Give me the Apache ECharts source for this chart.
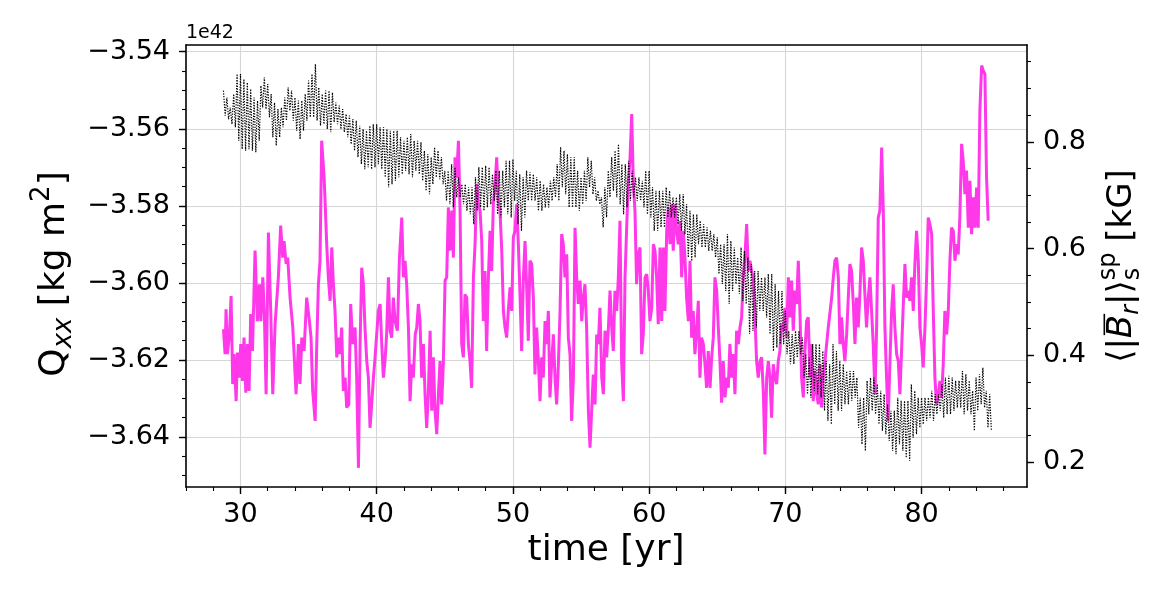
<!DOCTYPE html>
<html>
<head>
<meta charset="utf-8">
<script src="https://cdn.jsdelivr.net/npm/echarts@6/dist/echarts.min.js"></script>
<style>
html, body { margin: 0; padding: 0; background: #fff; }
#chart { width: 1173px; height: 597px; }
</style>
</head>
<body>
<div id="chart"></div>
<script>
// Q_xx (units of 1e42 kg m^2): upper and lower edge of the fast oscillation,
// read every 0.25 yr from 28.75 yr
var qxxStart = 28.75, qxxStep = 0.25;
var qxxUpper = [
  -3.5501,-3.5519,-3.5545,-3.5510,-3.5458,-3.5458,-3.5471,-3.5480,-3.5497,-3.5519,
  -3.5527,-3.5488,-3.5467,-3.5484,-3.5510,-3.5532,-3.5549,-3.5545,-3.5519,-3.5493,
  -3.5501,-3.5519,-3.5527,-3.5527,-3.5510,-3.5475,-3.5458,-3.5432,-3.5493,-3.5510,
  -3.5501,-3.5501,-3.5506,-3.5532,-3.5540,-3.5549,-3.5562,-3.5566,-3.5575,-3.5579,
  -3.5592,-3.5601,-3.5605,-3.5592,-3.5588,-3.5588,-3.5596,-3.5596,-3.5601,-3.5605,
  -3.5605,-3.5605,-3.5622,-3.5631,-3.5622,-3.5614,-3.5631,-3.5631,-3.5635,-3.5657,
  -3.5666,-3.5674,-3.5648,-3.5657,-3.5674,-3.5709,-3.5709,-3.5692,-3.5700,-3.5726,
  -3.5744,-3.5744,-3.5752,-3.5752,-3.5726,-3.5700,-3.5700,-3.5696,-3.5700,-3.5718,
  -3.5709,-3.5709,-3.5709,-3.5683,-3.5683,-3.5679,-3.5709,-3.5718,-3.5726,-3.5709,
  -3.5713,-3.5718,-3.5726,-3.5735,-3.5744,-3.5752,-3.5735,-3.5726,-3.5692,-3.5648,
  -3.5657,-3.5666,-3.5674,-3.5674,-3.5709,-3.5726,-3.5709,-3.5674,-3.5683,-3.5726,
  -3.5761,-3.5778,-3.5752,-3.5709,-3.5674,-3.5657,-3.5640,-3.5692,-3.5692,-3.5683,
  -3.5709,-3.5726,-3.5726,-3.5735,-3.5709,-3.5709,-3.5752,-3.5761,-3.5761,-3.5761,
  -3.5752,-3.5761,-3.5778,-3.5778,-3.5770,-3.5770,-3.5796,-3.5813,-3.5822,-3.5822,
  -3.5839,-3.5848,-3.5856,-3.5865,-3.5874,-3.5882,-3.5900,-3.5900,-3.5874,-3.5891,
  -3.5908,-3.5934,-3.5908,-3.5917,-3.5934,-3.5951,-3.5969,-3.5969,-3.5986,-3.5986,
  -3.5977,-3.5977,-3.6003,-3.6021,-3.6021,-3.6073,-3.6125,-3.6133,-3.6125,-3.6125,
  -3.6142,-3.6185,-3.6194,-3.6159,-3.6159,-3.6159,-3.6177,-3.6203,-3.6211,-3.6159,
  -3.6177,-3.6203,-3.6211,-3.6229,-3.6229,-3.6229,-3.6246,-3.6298,-3.6298,-3.6254,
  -3.6246,-3.6246,-3.6263,-3.6280,-3.6289,-3.6315,-3.6332,-3.6332,-3.6298,-3.6306,
  -3.6306,-3.6306,-3.6263,-3.6280,-3.6298,-3.6298,-3.6298,-3.6298,-3.6280,-3.6289,
  -3.6289,-3.6263,-3.6246,-3.6241,-3.6246,-3.6254,-3.6254,-3.6229,-3.6237,-3.6254,
  -3.6280,-3.6246,-3.6237,-3.6220,-3.6280,-3.6289
];
var qxxLower = [
  -3.5566,-3.5575,-3.5588,-3.5596,-3.5631,-3.5653,-3.5657,-3.5653,-3.5657,-3.5661,
  -3.5631,-3.5545,-3.5549,-3.5570,-3.5622,-3.5644,-3.5622,-3.5596,-3.5579,-3.5553,
  -3.5579,-3.5605,-3.5627,-3.5605,-3.5579,-3.5570,-3.5570,-3.5579,-3.5592,-3.5588,
  -3.5601,-3.5609,-3.5583,-3.5588,-3.5601,-3.5609,-3.5622,-3.5640,-3.5657,-3.5674,
  -3.5692,-3.5705,-3.5700,-3.5705,-3.5700,-3.5692,-3.5705,-3.5726,-3.5752,-3.5744,
  -3.5735,-3.5726,-3.5718,-3.5709,-3.5718,-3.5726,-3.5709,-3.5718,-3.5735,-3.5761,
  -3.5770,-3.5744,-3.5726,-3.5731,-3.5744,-3.5787,-3.5796,-3.5804,-3.5778,-3.5778,
  -3.5796,-3.5813,-3.5822,-3.5848,-3.5813,-3.5804,-3.5813,-3.5804,-3.5796,-3.5787,
  -3.5822,-3.5830,-3.5804,-3.5822,-3.5830,-3.5787,-3.5848,-3.5865,-3.5830,-3.5787,
  -3.5787,-3.5787,-3.5813,-3.5813,-3.5804,-3.5804,-3.5787,-3.5778,-3.5787,-3.5752,
  -3.5770,-3.5804,-3.5804,-3.5804,-3.5813,-3.5796,-3.5787,-3.5752,-3.5770,-3.5787,
  -3.5796,-3.5856,-3.5830,-3.5778,-3.5761,-3.5778,-3.5796,-3.5822,-3.5804,-3.5787,
  -3.5778,-3.5787,-3.5787,-3.5804,-3.5822,-3.5830,-3.5865,-3.5865,-3.5856,-3.5856,
  -3.5830,-3.5830,-3.5830,-3.5848,-3.5865,-3.5874,-3.5934,-3.5943,-3.5934,-3.5900,
  -3.5908,-3.5908,-3.5917,-3.5917,-3.5934,-3.5977,-3.6003,-3.6021,-3.6055,-3.6021,
  -3.6003,-3.6029,-3.6047,-3.6055,-3.6133,-3.6125,-3.6116,-3.6073,-3.6073,-3.6090,
  -3.6133,-3.6177,-3.6168,-3.6159,-3.6159,-3.6185,-3.6211,-3.6211,-3.6194,-3.6185,
  -3.6246,-3.6289,-3.6298,-3.6280,-3.6289,-3.6298,-3.6332,-3.6358,-3.6367,-3.6315,
  -3.6332,-3.6332,-3.6315,-3.6315,-3.6306,-3.6298,-3.6376,-3.6419,-3.6436,-3.6341,
  -3.6332,-3.6341,-3.6367,-3.6384,-3.6393,-3.6410,-3.6436,-3.6445,-3.6419,-3.6436,
  -3.6454,-3.6462,-3.6402,-3.6393,-3.6376,-3.6367,-3.6358,-3.6350,-3.6358,-3.6341,
  -3.6332,-3.6350,-3.6341,-3.6341,-3.6332,-3.6324,-3.6324,-3.6341,-3.6332,-3.6341,
  -3.6384,-3.6332,-3.6315,-3.6324,-3.6376,-3.6384
];

// <|B_r|>_s^sp in kG
var brTime = [
  28.75,28.87,28.94,29.04,29.19,29.31,29.43,29.53,29.68,29.78,
  29.92,30.02,30.14,30.26,30.39,30.51,30.63,30.75,30.88,31.07,
  31.24,31.39,31.49,31.64,31.76,31.88,32.05,32.22,32.37,32.54,
  32.78,32.95,33.10,33.20,33.35,33.47,33.64,33.84,34.08,34.25,
  34.37,34.50,34.67,34.86,35.06,
  35.18,35.30,35.48,35.60,35.72,35.84,35.96,36.14,36.21,36.33,
  36.45,36.58,36.70,36.82,36.94,37.07,37.19,37.31,37.43,37.55,
  37.68,37.80,37.95,38.09,38.24,38.41,38.53,38.66,38.78,38.90,
  39.02,39.14,39.27,39.39,39.51,39.63,39.76,39.88,40.00,40.12,
  40.25,40.37,40.49,40.61,40.73,40.86,40.98,
  41.10,41.22,41.35,41.52,41.67,41.84,41.96,42.08,42.20,42.33,
  42.45,42.57,42.69,42.83,42.94,43.06,43.18,43.30,43.43,43.55,
  43.67,43.79,43.92,44.04,44.16,44.28,44.41,44.53,44.65,44.77,
  44.89,45.02,45.14,45.26,45.38,45.51,45.63,45.75,45.87,46.00,
  46.12,46.24,46.36,46.48,46.61,46.73,46.85,46.97,47.10,47.22,
  47.34,47.46,47.59,
  47.71,47.83,47.95,48.07,48.20,48.32,48.44,48.56,48.69,48.81,
  48.93,49.05,49.18,49.30,49.42,49.54,49.66,49.79,49.91,50.03,
  50.15,50.28,50.40,50.52,50.64,50.77,50.89,51.01,51.13,51.25,
  51.38,51.50,51.62,51.74,51.87,51.99,52.11,52.23,52.36,52.48,
  52.60,52.72,52.85,52.97,53.09,53.21,53.33,53.46,53.58,53.70,
  53.82,53.95,54.07,54.19,
  54.31,54.44,54.56,54.68,54.80,54.93,55.05,55.17,55.29,55.41,
  55.54,55.66,55.78,55.90,56.03,56.15,56.27,56.39,56.52,56.64,
  56.76,56.88,57.00,57.13,57.25,57.37,57.49,57.62,57.74,57.86,
  57.98,58.11,58.23,58.35,58.47,58.59,58.72,58.84,58.96,59.08,
  59.21,59.33,59.45,59.57,59.70,59.82,59.94,60.06,60.19,60.31,
  60.43,60.55,60.67,60.80,
  60.92,61.04,61.16,61.29,61.41,61.53,61.65,61.77,61.90,62.02,
  62.14,62.26,62.39,62.51,62.63,62.75,62.88,63.00,63.12,63.24,
  63.36,63.49,63.61,63.73,63.85,63.98,64.10,64.22,64.34,64.47,
  64.59,64.71,64.83,64.96,65.08,65.20,65.32,65.44,65.57,65.69,
  65.81,65.93,66.06,66.18,66.30,66.42,66.55,66.67,66.79,66.91,
  67.04,67.16,67.28,67.40,
  67.52,67.65,67.77,67.89,68.01,68.14,68.26,68.38,68.50,68.63,
  68.75,68.87,68.99,69.11,69.24,69.36,69.48,69.60,69.73,69.85,
  69.97,70.09,70.22,70.34,70.46,70.58,70.71,70.83,70.95,71.07,
  71.19,71.32,71.44,71.56,71.68,71.81,71.93,72.05,72.17,72.30,
  72.42,72.54,72.66,72.78,72.91,73.03,73.15,73.27,73.40,73.52,
  73.64,73.76,73.89,74.01,
  74.13,74.25,74.37,74.50,74.62,74.74,74.86,74.99,75.11,75.23,
  75.35,75.47,75.60,75.72,75.84,75.96,76.09,76.21,76.33,76.45,
  76.58,76.70,76.82,76.94,77.07,77.19,77.31,77.43,77.55,77.68,
  77.80,77.92,78.04,78.17,78.29,78.41,78.53,78.66,78.78,78.90,
  79.02,79.14,79.27,79.39,79.51,79.63,79.76,79.88,80.00,80.12,
  80.25,80.37,80.49,80.61,
  80.74,80.86,80.98,81.10,81.22,81.35,81.47,81.59,81.71,81.84,
  81.96,82.08,82.20,82.33,82.45,82.57,82.69,82.81,82.94,83.06,
  83.18,83.30,83.43,83.55,83.67,83.79,83.92,84.04,84.16,84.28,
  84.41,84.53,84.65,84.77,84.89
];
var brValue = [
  .449,.402,.486,.402,.439,.511,.346,.402,.314,.405,
  .358,.421,.352,.433,.330,.421,.333,.477,.408,.596,
  .464,.533,.464,.546,.471,.327,.630,.483,.327,.458,
  .546,.643,.583,.614,.571,.583,.508,.452,.327,.421,
  .346,.433,.408,.508,.464,
  .433,.333,.277,.421,.533,.577,.802,.733,.689,.608,
  .546,.502,.602,.533,.483,.396,.433,.402,.452,.333,
  .358,.302,.308,.496,.421,.452,.358,.189,.421,.564,
  .533,.452,.389,.358,.264,.308,.358,.396,.439,.483,
  .496,.421,.358,.389,.439,.546,.446,
  .433,.508,.464,.446,.583,.658,.546,.577,.533,.452,
  .314,.383,.358,.439,.452,.496,.464,.358,.421,.327,
  .264,.327,.446,.296,.396,.296,.252,.327,.389,.308,
  .383,.540,.546,.677,.596,.671,.583,.771,.733,.802,
  .671,.421,.396,.514,.508,.421,.389,.339,.546,.608,
  .721,.683,.671,
  .614,.464,.558,.408,.546,.633,.558,.683,.721,.771,
  .689,.671,.596,.483,.452,.433,.483,.527,.483,.621,
  .633,.683,.608,.514,.408,.546,.614,.527,.427,.577,
  .571,.508,.364,.452,.389,.314,.396,.358,.464,.421,
  .483,.321,.389,.439,.358,.308,.377,.483,.627,.608,
  .546,.589,.433,.402,
  .277,.358,.639,.546,.496,.540,.464,.508,.533,.452,
  .296,.227,.296,.364,.308,.439,.421,.489,.358,.327,
  .446,.396,.446,.521,.452,.408,.521,.483,.546,.652,
  .389,.314,.546,.639,.721,.764,.852,.721,.671,.533,
  .589,.602,.402,.439,.546,.552,.521,.464,.489,.608,
  .596,.546,.458,.602,
  .464,.602,.483,.633,.677,.608,.683,.596,.683,.633,
  .608,.652,.546,.633,.583,.508,.464,.577,.433,.483,
  .402,.446,.502,.358,.433,.421,.383,.339,.408,.339,
  .396,.433,.546,.521,.452,.389,.311,.389,.321,.358,
  .339,.421,.358,.402,.327,.446,.421,.452,.471,.546,
  .589,.646,.558,.577,
  .558,.546,.471,.389,.358,.389,.396,.333,.214,.358,
  .389,.358,.283,.383,.358,.346,.389,.408,.458,.446,
  .489,.433,.546,.471,.540,.446,.521,.496,.577,.483,
  .358,.321,.408,.464,.471,.358,.421,.314,.371,.327,
  .308,.383,.302,.358,.389,.421,.452,.452,.508,.546,
  .577,.583,.546,.421,
  .471,.421,.389,.439,.508,.571,.558,.496,.421,.508,
  .452,.514,.602,.577,.514,.452,.508,.546,.483,.421,
  .327,.452,.658,.671,.789,.671,.452,.358,.277,.389,
  .483,.533,.452,.402,.389,.327,.408,.496,.571,.508,
  .521,.502,.546,.483,.571,.633,.577,.452,.421,.377,
  .452,.546,.658,.646,
  .627,.483,.358,.308,.327,.352,.321,.383,.483,.439,
  .483,.577,.639,.633,.577,.608,.589,.658,.796,.764,
  .702,.746,.639,.727,.627,.696,.639,.714,.639,.858,
  .943,.933,.927,.733,.652
];

// ticks
var timeTicks = [30, 40, 50, 60, 70, 80];
var timeMinor = [26,28,30,32,34,36,38,40,42,44,46,48,50,52,54,56,58,60,62,64,66,68,70,72,74,76,78,80,82,84,86];
var qTicks = [-3.64, -3.62, -3.60, -3.58, -3.56, -3.54];
var qMinor = [-3.65,-3.645,-3.64,-3.635,-3.63,-3.625,-3.62,-3.615,-3.61,-3.605,-3.60,-3.595,-3.59,
              -3.585,-3.58,-3.575,-3.57,-3.565,-3.56,-3.555,-3.55,-3.545,-3.54];
var brTicks = [0.2, 0.4, 0.6, 0.8];
var brMinor = [0.2,0.25,0.3,0.35,0.4,0.45,0.5,0.55,0.6,0.65,0.7,0.75,0.8,0.85,0.9,0.95];

var FONT = 'DejaVu Sans';
var X_MIN = 26, X_MAX = 87.74;
var Q_MIN = -3.65299, Q_MAX = -3.53826;
var B_MIN = 0.15312, B_MAX = 0.98132;

var measureCtx = document.createElement('canvas').getContext('2d');
function textWidth(s, size, italic) {
  measureCtx.font = (italic ? 'italic ' : '') + size + 'px "' + FONT + '"';
  return measureCtx.measureText(s).width;
}

// lays out text pieces (sub/superscripts) in a group, centred at cx, cy
function mathLabel(pieces, cx, cy, rotation) {
  var children = [], x = 0, prevX = 0;
  pieces.forEach(function (p) {
    var w = textWidth(p.t, p.s, p.i);
    var px = p.stack ? prevX : x;
    children.push({
      type: 'text', x: px, y: p.dy || 0,
      style: {
        text: p.t, fontSize: p.s, fontFamily: FONT, fontStyle: p.i ? 'italic' : 'normal',
        fill: '#000', align: 'left', verticalAlign: 'middle',
        textAlign: 'left', textVerticalAlign: 'middle'
      }
    });
    if (p.bar) {
      children.push({
        type: 'line',
        shape: { x1: px + 3, y1: -p.s * 0.52, x2: px + w + 1, y2: -p.s * 0.52 },
        style: { stroke: '#000', lineWidth: 1.6 }
      });
    }
    if (p.stack) {
      x = Math.max(x, px + w);
    } else {
      prevX = px;
      x = px + w;
    }
  });
  var half = x / 2;
  children.forEach(function (c) {
    if (c.type === 'text') c.x -= half;
    else { c.shape.x1 -= half; c.shape.x2 -= half; }
  });
  return { type: 'group', x: cx, y: cy, rotation: rotation || 0, children: children };
}

var chart = echarts.init(document.getElementById('chart'));

// upper edge at t, lower edge half a step later
var qxxData = [];
qxxUpper.forEach(function (v, i) {
  var t = qxxStart + i * qxxStep;
  qxxData.push([t, v]);
  qxxData.push([t + qxxStep / 2, qxxLower[i]]);
});
var brData = brTime.map(function (t, i) { return [t, brValue[i]]; });

var spine = { show: true, lineStyle: { color: '#000', width: 1.6 } };
var majorTick = { color: '#000', width: 1.4 };
var labelStyle = { fontSize: 27, fontFamily: FONT, color: '#000' };

var option = {
  animation: false,
  backgroundColor: '#fff',
  grid: { left: 186, right: 146, top: 45, bottom: 110, outerBoundsMode: 'none' },
  xAxis: [
    {
      type: 'value', min: X_MIN, max: X_MAX, position: 'bottom',
      axisLine: spine,
      axisTick: { show: true, length: 7, customValues: timeTicks, lineStyle: majorTick },
      axisLabel: Object.assign({ customValues: timeTicks, margin: 14, formatter: function (v) { return String(Math.round(v)); } }, labelStyle),
      splitLine: { show: true, lineStyle: { color: '#d6d6d6', width: 1.1 } }
    },
    {
      type: 'value', min: X_MIN, max: X_MAX, position: 'bottom',
      axisLine: { show: false },
      axisTick: { show: true, length: 4, customValues: timeMinor, lineStyle: { color: '#000', width: 1.1 } },
      axisLabel: { show: false }, splitLine: { show: false }
    },
    {
      type: 'value', min: X_MIN, max: X_MAX, position: 'top',
      axisLine: spine, axisTick: { show: false }, axisLabel: { show: false }, splitLine: { show: false }
    }
  ],
  yAxis: [
    {
      type: 'value', min: Q_MIN, max: Q_MAX, position: 'left',
      axisLine: spine,
      axisTick: { show: true, length: 7, customValues: qTicks, lineStyle: majorTick },
      axisLabel: Object.assign({ customValues: qTicks, margin: 16, formatter: function (v) { return v.toFixed(2).replace('-', '\u2212'); } }, labelStyle),
      splitLine: { show: true, lineStyle: { color: '#d6d6d6', width: 1.1 } }
    },
    {
      type: 'value', min: Q_MIN, max: Q_MAX, position: 'left',
      axisLine: { show: false },
      axisTick: { show: true, length: 4, customValues: qMinor, lineStyle: { color: '#000', width: 1.1 } },
      axisLabel: { show: false }, splitLine: { show: false }
    },
    {
      type: 'value', min: B_MIN, max: B_MAX, position: 'right',
      axisLine: spine,
      axisTick: { show: true, length: 7, customValues: brTicks, lineStyle: majorTick },
      axisLabel: Object.assign({ customValues: brTicks, margin: 16, formatter: function (v) { return v.toFixed(1); } }, labelStyle),
      splitLine: { show: false }
    },
    {
      type: 'value', min: B_MIN, max: B_MAX, position: 'right',
      axisLine: { show: false },
      axisTick: { show: true, length: 4, customValues: brMinor, lineStyle: { color: '#000', width: 1.1 } },
      axisLabel: { show: false }, splitLine: { show: false }
    }
  ],
  series: [
    {
      name: 'Br', type: 'line', xAxisIndex: 0, yAxisIndex: 2,
      data: brData, showSymbol: false, symbol: 'none',
      lineStyle: { color: '#ff38e9', width: 3 }
    },
    {
      name: 'Qxx', type: 'line', xAxisIndex: 0, yAxisIndex: 0,
      data: qxxData, showSymbol: false, symbol: 'none',
      lineStyle: { color: '#000', width: 1.2, type: [1.3, 1.4] }
    }
  ],
  graphic: [
    {
      type: 'text', left: 186, top: 24,
      style: { text: '1e42', fontSize: 19, fontFamily: FONT, fill: '#000' }
    },
    mathLabel([{ t: 'time [yr]', s: 36 }], 606, 551, 0),
    mathLabel([
      { t: 'Q', s: 36 },
      { t: 'xx', s: 26, i: true, dy: 9 },
      { t: ' [kg m', s: 36 },
      { t: '2', s: 26, dy: -13 },
      { t: ']', s: 36 }
    ], 55, 274, Math.PI / 2),
    mathLabel([
      { t: '\u27e8|', s: 34 },
      { t: 'B', s: 34, i: true, bar: true },
      { t: 'r', s: 24, i: true, dy: 10 },
      { t: '|\u27e9', s: 34 },
      { t: 'sp', s: 24, dy: -13 },
      { t: 's', s: 24, dy: 11, stack: true },
      { t: ' [kG]', s: 34 }
    ], 1122, 266, Math.PI / 2)
  ]
};

chart.setOption(option);
</script>
</body>
</html>
